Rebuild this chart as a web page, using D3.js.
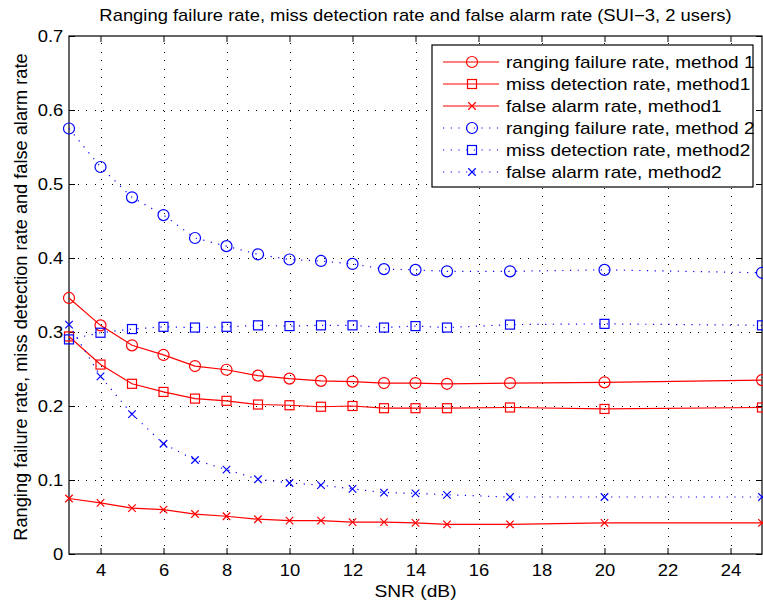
<!DOCTYPE html>
<html>
<head>
<meta charset="utf-8">
<script src="https://cdn.jsdelivr.net/npm/d3@7"></script>
<style>
  html, body { margin: 0; padding: 0; background: #fff; }
  svg { display: block; }
  text { font-family: "Liberation Sans", Arial, Helvetica, sans-serif; fill: #000; }
</style>
</head>
<body>
<svg id="chart" width="763" height="610"></svg>
<script>
// SNR sample points (dB)
const snr = [3, 4, 5, 6, 7, 8, 9, 10, 11, 12, 13, 14, 15, 17, 20, 25];

// Method 1 (solid red)
const rangingFail1 = [0.346, 0.309, 0.282, 0.269, 0.254, 0.249, 0.241, 0.237, 0.234, 0.233, 0.231, 0.231, 0.230, 0.231, 0.232, 0.235];
const missDetect1  = [0.294, 0.256, 0.230, 0.219, 0.210, 0.207, 0.202, 0.201, 0.199, 0.200, 0.197, 0.197, 0.197, 0.198, 0.196, 0.198];
const falseAlarm1  = [0.075, 0.069, 0.062, 0.060, 0.054, 0.051, 0.047, 0.045, 0.045, 0.043, 0.043, 0.042, 0.040, 0.040, 0.042, 0.042];

// Method 2 (dotted blue)
const rangingFail2 = [0.575, 0.523, 0.482, 0.458, 0.427, 0.416, 0.405, 0.398, 0.396, 0.392, 0.385, 0.384, 0.382, 0.382, 0.384, 0.380];
const missDetect2  = [0.290, 0.299, 0.304, 0.307, 0.306, 0.307, 0.309, 0.308, 0.309, 0.309, 0.306, 0.308, 0.306, 0.310, 0.311, 0.309];
const falseAlarm2  = [0.310, 0.240, 0.189, 0.149, 0.127, 0.114, 0.101, 0.096, 0.093, 0.088, 0.083, 0.082, 0.080, 0.077, 0.077, 0.077];

const seriesLabels = [
  "ranging failure rate, method 1",
  "miss detection rate, method1",
  "false alarm rate, method1",
  "ranging failure rate, method 2",
  "miss detection rate, method2",
  "false alarm rate, method2"
];

const xTicks = [4, 6, 8, 10, 12, 14, 16, 18, 20, 22, 24];
const yTicks = [0, 0.1, 0.2, 0.3, 0.4, 0.5, 0.6, 0.7];

const titleText = "Ranging failure rate, miss detection rate and false alarm rate (SUI\u22123, 2 users)";
const xLabelText = "SNR (dB)";
const yLabelText = "Ranging failure rate, miss detection rate and false alarm rate";

const series = [
  { values: rangingFail1, color: "#ff0000", dotted: false, marker: "circle" },
  { values: missDetect1,  color: "#ff0000", dotted: false, marker: "square" },
  { values: falseAlarm1,  color: "#ff0000", dotted: false, marker: "cross" },
  { values: rangingFail2, color: "#0000ff", dotted: true,  marker: "circle" },
  { values: missDetect2,  color: "#0000ff", dotted: true,  marker: "square" },
  { values: falseAlarm2,  color: "#0000ff", dotted: true,  marker: "cross" }
].map((s, i) => ({ ...s, label: seriesLabels[i] }));

const svg = d3.select("#chart");
const margin = { left: 69, right: 1, top: 36, bottom: 56 };
const W = 763, H = 610;
const x = d3.scaleLinear().domain([3, 25]).range([margin.left, W - margin.right]);
const y = d3.scaleLinear().domain([0, 0.7]).range([H - margin.bottom, margin.top]);

const FS = 16;      // base font size
const SX = 1.15;    // horizontal glyph stretch of the figure's lettering
const DOTS = "1,7.5";

// grid
const grid = svg.append("g").attr("stroke", "#000").attr("stroke-width", 1)
  .attr("stroke-dasharray", DOTS).attr("shape-rendering", "crispEdges");
grid.selectAll(".vg").data(xTicks).join("line")
  .attr("x1", d => Math.round(x(d)) + 0.5).attr("x2", d => Math.round(x(d)) + 0.5)
  .attr("y1", y(0)).attr("y2", y(0.7));
grid.selectAll(".hg").data(yTicks.filter(d => d > 0 && d < 0.7)).join("line")
  .attr("y1", d => Math.round(y(d)) + 0.5).attr("y2", d => Math.round(y(d)) + 0.5)
  .attr("x1", x(3)).attr("x2", x(25));

// axes (box with inward ticks on all four sides)
const tickLen = -6;
const axB = svg.append("g").attr("transform", `translate(0,${y(0)})`)
  .call(d3.axisBottom(x).tickValues(xTicks).tickSizeInner(tickLen).tickSizeOuter(0).tickPadding(11).tickFormat(d3.format("d")));
const axT = svg.append("g").attr("transform", `translate(0,${y(0.7)})`)
  .call(d3.axisTop(x).tickValues(xTicks).tickSizeInner(tickLen).tickSizeOuter(0).tickFormat(""));
const axL = svg.append("g").attr("transform", `translate(${x(3)},0)`)
  .call(d3.axisLeft(y).tickValues(yTicks).tickSizeInner(tickLen).tickSizeOuter(0).tickPadding(5).tickFormat(d => d === 0 ? "0" : d3.format(".1f")(d)));
const axR = svg.append("g").attr("transform", `translate(${x(25)},0)`)
  .call(d3.axisRight(y).tickValues(yTicks).tickSizeInner(tickLen).tickSizeOuter(0).tickFormat(""));
[axB, axT, axL, axR].forEach(a => {
  a.select(".domain").remove();
  a.selectAll("line").attr("stroke", "#000");
  a.selectAll("text").attr("font-size", FS).attr("font-family", "Liberation Sans, Arial, sans-serif")
    .attr("fill", "#000").attr("transform", `scale(${SX},1)`);
});
svg.append("rect").attr("x", x(3)).attr("y", y(0.7)).attr("width", x(25) - x(3)).attr("height", y(0) - y(0.7))
  .attr("fill", "none").attr("stroke", "#000").attr("stroke-width", 1.2);

// marker drawing
function drawMarker(g, type, color, cx, cy, s) {
  if (type === "circle") {
    g.append("circle").attr("cx", cx).attr("cy", cy).attr("r", s * 1.1)
      .attr("fill", "none").attr("stroke", color).attr("stroke-width", 1.2);
  } else if (type === "square") {
    g.append("rect").attr("x", cx - s * 0.9).attr("y", cy - s * 0.9).attr("width", s * 1.8).attr("height", s * 1.8)
      .attr("fill", "none").attr("stroke", color).attr("stroke-width", 1.2);
  } else {
    const h = s * 0.75;
    g.append("path").attr("d", `M${cx - h},${cy - h}L${cx + h},${cy + h}M${cx - h},${cy + h}L${cx + h},${cy - h}`)
      .attr("fill", "none").attr("stroke", color).attr("stroke-width", 1.2);
  }
}

// series
const line = d3.line().x((d, i) => x(snr[i])).y(d => y(d));
const plot = svg.append("g");
series.forEach(s => {
  plot.append("path").datum(s.values).attr("d", line)
    .attr("fill", "none").attr("stroke", s.color).attr("stroke-width", 1.2)
    .attr("stroke-dasharray", s.dotted ? "1.2,6.5" : null);
  const mg = plot.append("g");
  s.values.forEach((v, i) => drawMarker(mg, s.marker, s.color, x(snr[i]), y(v), 5));
});

// horizontally stretched text helper
function label(parent, tx, ty, str, size, anchor, rotate, sx) {
  return parent.append("text")
    .attr("transform", `translate(${tx},${ty})${rotate ? ` rotate(${rotate})` : ""} scale(${sx},1)`)
    .attr("text-anchor", anchor).attr("font-size", size).text(str);
}

// title and axis labels
const cx = (x(3) + x(25)) / 2;
label(svg, cx, 21, titleText, FS, "middle", 0, SX);
label(svg, cx, 597, xLabelText, FS, "middle", 0, 1.2);
label(svg, 27, (y(0) + y(0.7)) / 2 + 2, yLabelText, 18.2, "middle", -90, 1);

// legend
const lg = svg.append("g");
const lx = 432, ly = 45, lw = 321, lh = 142;
lg.append("rect").attr("x", lx).attr("y", ly).attr("width", lw).attr("height", lh)
  .attr("fill", "#fff").attr("stroke", "#000").attr("stroke-width", 1.2);
series.forEach((s, i) => {
  const cy = ly + 17 + i * 22;
  lg.append("line").attr("x1", lx + 11).attr("x2", lx + 67).attr("y1", cy).attr("y2", cy)
    .attr("stroke", s.color).attr("stroke-width", 1.2).attr("stroke-dasharray", s.dotted ? "1.2,6.5" : null);
  drawMarker(lg, s.marker, s.color, lx + 40, cy, 5);
  label(lg, lx + 74, cy + 5.5, s.label, 17, "start", 0, 1.12);
});
</script>
</body>
</html>
